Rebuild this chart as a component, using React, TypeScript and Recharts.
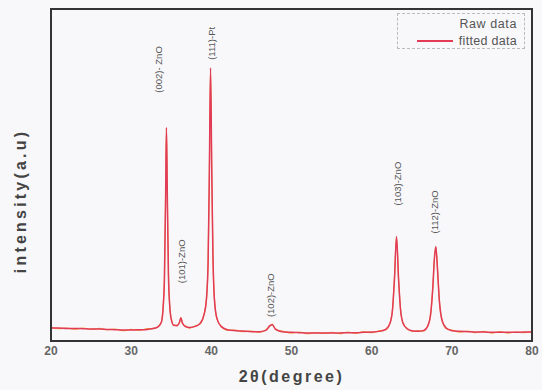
import React from 'react';
import { LineChart, Line, XAxis, YAxis, ReferenceDot } from 'recharts';

const twoTheta = [
  20, 21, 22, 23, 24, 25, 26, 27, 28, 29, 30, 31, 32, 33, 33.5, 33.8, 34.0, 34.15, 34.3, 34.4,
  34.5, 34.65, 34.8, 35.0, 35.3, 35.7, 36.0, 36.2, 36.4, 36.8, 37.3, 38.0, 38.6, 39.1, 39.4, 39.6,
  39.75, 39.9, 40.05, 40.2, 40.4, 40.7, 41.2, 42, 43, 44, 45, 46, 46.8, 47.3, 47.6, 48.0, 48.8, 50,
  51, 52, 53, 54, 55, 56, 57, 58, 59, 60, 61, 61.8, 62.3, 62.6, 62.85, 63.1, 63.35, 63.6, 63.9, 64.4,
  65, 65.8, 66.5, 67.0, 67.35, 67.65, 67.8, 68.0, 68.2, 68.45, 68.8, 69.3, 70, 71, 72, 73, 74, 75,
  76, 77, 78, 79, 80,
];

const fittedIntensity = [
  3.9, 3.9, 3.8, 3.8, 3.7, 3.6, 3.6, 3.5, 3.4, 3.3, 3.3, 3.4, 3.5, 3.9, 4.6, 6.0, 10.5, 19, 44, 64.3,
  46, 20, 11, 6.5, 4.8, 4.6, 5.5, 6.9, 5.4, 4.3, 4.1, 4.4, 5.3, 8.0, 13, 24,
  50, 82.3, 52, 26, 12, 6.8, 4.4, 3.4, 3.1, 3.0, 2.8, 2.8, 3.2, 4.6, 4.9, 3.6, 2.8, 2.6,
  2.5, 2.4, 2.4, 2.4, 2.4, 2.4, 2.5, 2.5, 2.6, 2.7, 2.9, 3.6, 5.4, 9.5, 19, 31.5, 19, 9.5, 5.5, 3.7,
  3.1, 2.9, 3.2, 4.5, 8, 17, 24, 28.5, 22, 12, 6, 3.9, 3.1, 2.9, 2.8, 2.7, 2.7, 2.6,
  2.6, 2.6, 2.6, 2.7, 2.7,
];

const rawIntensity = [
  4.1, 3.7, 3.9, 3.6, 3.9, 3.5, 3.8, 3.4, 3.6, 3.1, 3.5, 3.2, 3.7, 3.8, 4.8, 5.8, 10.8, 18.6, 44.5, 64.0,
  45.5, 20.4, 10.7, 6.8, 4.6, 4.8, 5.3, 7.1, 5.2, 4.5, 3.9, 4.6, 5.1, 8.2, 12.7, 24.3,
  49.6, 82.0, 52.4, 25.7, 12.3, 6.6, 4.6, 3.2, 3.3, 2.8, 3.0, 2.6, 3.4, 4.4, 5.1, 3.4, 3.0, 2.4,
  2.7, 2.2, 2.5, 2.3, 2.6, 2.2, 2.7, 2.3, 2.8, 2.5, 3.1, 3.4, 5.6, 9.3, 19.3, 31.3, 18.7, 9.7, 5.3, 3.9,
  2.9, 3.1, 3.0, 4.7, 7.8, 17.2, 23.7, 28.3, 22.3, 11.8, 6.2, 3.7, 3.3, 2.7, 3.0, 2.5, 2.9, 2.4,
  2.8, 2.4, 2.7, 2.5, 2.9,
];

const xTicks = [20, 30, 40, 50, 60, 70, 80];
const xDomain = [20, 80];
const yDomain = [0, 100];

const peakLabels = ['(002)- ZnO', '(101)-ZnO', '(111)-Pt', '(102)-ZnO', '(103)-ZnO', '(112)-ZnO'];
const peakLabelX = [33.35, 36.3, 40.0, 47.4, 63.2, 67.9];
const peakLabelY = [74.8, 17.4, 84.7, 7.2, 40.8, 32.4];

const legendLabels = ['Raw data', 'fitted data'];
const xTitle = '2θ(degree)';
const yTitle = 'intensity(a.u)';

const data = twoTheta.map((t, i) => ({ t, raw: rawIntensity[i], fit: fittedIntensity[i] }));
const annotations = peakLabels.map((text, i) => ({ text, x: peakLabelX[i], y: peakLabelY[i] }));

const FONT = '"Liberation Sans", Arial, sans-serif';
const FRAME = '#333';
const FIT_COLOR = '#e23b55';
const RAW_COLOR = '#f2a24a';

const LegendBox = () => (
  <div
    style={{
      position: 'absolute',
      left: 397,
      top: 13,
      width: 128,
      height: 36,
      border: '1px dashed #bbb',
      fontFamily: FONT,
      fontSize: 12.5,
      color: '#555',
      boxSizing: 'border-box',
    }}
  >
    <div style={{ position: 'absolute', right: 7, top: 3, lineHeight: '14px', letterSpacing: 0.6 }}>
      {legendLabels[0]}
    </div>
    <div
      style={{
        position: 'absolute',
        right: 7,
        top: 20,
        lineHeight: '14px',
        display: 'flex',
        alignItems: 'center',
        letterSpacing: 0.3,
      }}
    >
      <span style={{ display: 'inline-block', width: 36, height: 1.5, background: FIT_COLOR, marginRight: 6 }} />
      {legendLabels[1]}
    </div>
  </div>
);

const Frame = () => (
  <div
    style={{
      position: 'absolute',
      left: 50,
      top: 8,
      width: 483,
      height: 334,
      border: `2px solid ${FRAME}`,
      boxSizing: 'border-box',
      pointerEvents: 'none',
    }}
  />
);

export default function App() {
  return (
    <div style={{ position: 'absolute', left: 0, top: 0, width: 542, height: 390, background: '#f8f8fa' }}>
      <LineChart width={542} height={390} data={data} margin={{ top: 9, right: 10, left: 0, bottom: 0 }}>
        <XAxis
          dataKey="t"
          type="number"
          domain={xDomain}
          ticks={xTicks}
          allowDataOverflow
          height={49}
          tickLine={false}
          tickSize={0}
          tickMargin={5}
          axisLine={{ stroke: FRAME, strokeWidth: 2 }}
          tick={{ fill: '#666', fontSize: 12, fontWeight: 'bold', fontFamily: FONT }}
          label={{
            value: xTitle,
            position: 'insideBottom',
            offset: 8,
            style: { fill: '#444', fontSize: 16, fontWeight: 'bold', fontFamily: FONT, letterSpacing: 2.5 },
          }}
        />
        <YAxis
          type="number"
          domain={yDomain}
          allowDataOverflow
          width={51}
          tick={false}
          tickLine={false}
          axisLine={{ stroke: FRAME, strokeWidth: 2 }}
          label={{
            content: ({ viewBox }: any) => {
              const cx = viewBox.x + 20;
              const cy = viewBox.y + viewBox.height / 2 + 26;
              return (
                <text
                  x={cx}
                  y={cy}
                  transform={`rotate(-90 ${cx} ${cy})`}
                  textAnchor="middle"
                  dominantBaseline="central"
                  fill="#444"
                  fontSize={16}
                  fontWeight="bold"
                  fontFamily={FONT}
                  letterSpacing={3.2}
                >
                  {yTitle}
                </text>
              );
            },
          }}
        />
        <Line
          dataKey="raw"
          type="monotone"
          stroke={RAW_COLOR}
          strokeWidth={1.2}
          dot={false}
          isAnimationActive={false}
        />
        <Line
          dataKey="fit"
          type="monotone"
          stroke={FIT_COLOR}
          strokeWidth={1.5}
          dot={false}
          isAnimationActive={false}
        />
        {annotations.map((a) => (
          <ReferenceDot
            key={a.text}
            x={a.x}
            y={a.y}
            r={1}
            ifOverflow="visible"
            shape={(p: any) => (
              <text
                x={p.cx}
                y={p.cy}
                transform={`rotate(-90 ${p.cx} ${p.cy})`}
                textAnchor="start"
                dominantBaseline="central"
                fill="#555"
                fontSize={9.5}
                fontFamily={FONT}
              >
                {a.text}
              </text>
            )}
          />
        ))}
      </LineChart>
      <Frame />
      <LegendBox />
    </div>
  );
}
